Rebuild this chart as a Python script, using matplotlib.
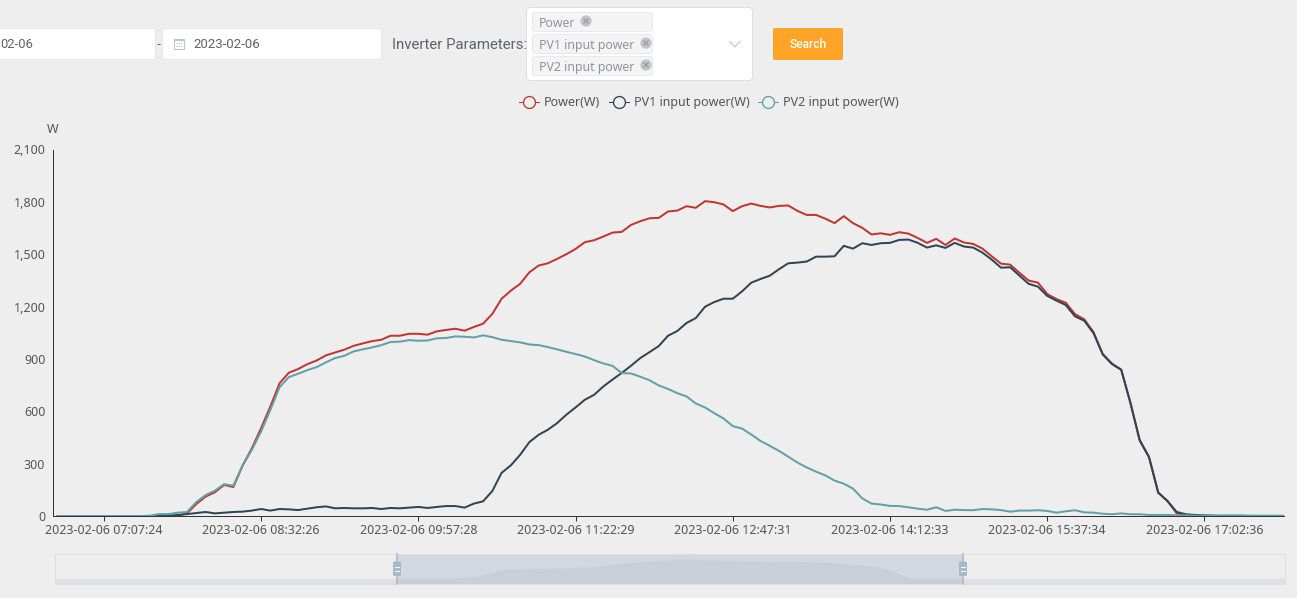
#!/usr/bin/env python3
"""Inverter power for one day, with the query form above and the zoom bar below."""

import matplotlib
matplotlib.use('Agg')
import matplotlib.pyplot as plt
import numpy as np
from matplotlib.lines import Line2D
from matplotlib.patches import Circle, FancyBboxPatch, Rectangle

W, H = 1297, 598

POWER = [
    0, 0, 0, 0, 0, 0, 0, 0, 0, 0, 0, 0, 0, 2, 15, 69, 111, 136, 178, 166,
    289, 388, 503, 627, 761, 821, 842, 870, 891, 920, 937, 953, 975, 989, 1002, 1010, 1033, 1033, 1044, 1044,
    1039, 1058, 1066, 1073, 1062, 1083, 1102, 1158, 1245, 1291, 1330, 1396, 1435, 1448, 1473, 1500, 1530, 1569, 1580, 1601,
    1624, 1628, 1668, 1689, 1706, 1708, 1745, 1750, 1775, 1766, 1804, 1798, 1785, 1747, 1775, 1790, 1777, 1768, 1777, 1779,
    1748, 1725, 1725, 1704, 1678, 1718, 1678, 1651, 1613, 1620, 1611, 1626, 1618, 1593, 1565, 1588, 1553, 1590, 1567, 1559,
    1532, 1488, 1446, 1440, 1393, 1349, 1337, 1272, 1243, 1222, 1157, 1127, 1054, 928, 874, 838, 647, 436, 340, 134,
    86, 15, 4, 2, 0, 0, 0, 0, 0, 0, 0, 0, 0, 0,
]
PV1_POWER = [
    0, 0, 0, 0, 0, 0, 0, 0, 0, 0, 0, 0, 2, 6, 11, 17, 23, 15, 19, 23,
    25, 31, 40, 31, 40, 38, 34, 42, 50, 55, 44, 46, 44, 44, 46, 40, 46, 44, 48, 52,
    46, 52, 57, 57, 48, 71, 84, 143, 247, 290, 350, 423, 465, 494, 532, 580, 622, 666, 694, 742,
    782, 820, 861, 905, 939, 974, 1033, 1060, 1106, 1134, 1199, 1226, 1245, 1245, 1287, 1337, 1358, 1377, 1414, 1448,
    1452, 1458, 1486, 1486, 1488, 1548, 1532, 1563, 1553, 1563, 1565, 1582, 1584, 1565, 1538, 1551, 1536, 1565, 1544, 1538,
    1509, 1469, 1423, 1425, 1377, 1330, 1314, 1261, 1234, 1209, 1144, 1119, 1048, 926, 870, 838, 647, 432, 337, 134,
    86, 23, 10, 6, 4, 2, 0, 0, 0, 0, 0, 0, 0, 0,
]
PV2_POWER = [
    0, 0, 0, 0, 0, 0, 0, 0, 0, 0, 2, 11, 11, 19, 23, 80, 120, 145, 182, 174,
    289, 379, 484, 608, 738, 796, 815, 836, 853, 880, 905, 918, 943, 955, 966, 979, 997, 999, 1008, 1004,
    1006, 1018, 1020, 1029, 1027, 1023, 1035, 1025, 1010, 1002, 995, 983, 979, 968, 955, 941, 928, 914, 893, 874,
    860, 819, 817, 798, 778, 748, 728, 704, 685, 645, 622, 589, 559, 515, 501, 467, 430, 402, 373, 340,
    306, 278, 254, 233, 203, 185, 157, 101, 71, 66, 58, 57, 50, 42, 36, 50, 29, 36, 34, 33,
    40, 38, 34, 25, 31, 31, 33, 29, 19, 27, 33, 21, 19, 13, 10, 15, 10, 10, 6, 6,
    6, 4, 4, 2, 2, 2, 4, 4, 4, 2, 2, 2, 2, 2,
]

TICK_SLOTS = [5, 22, 39, 56, 73, 90, 107, 124]
TICK_LABELS = [
    '2023-02-06 07:07:24', '2023-02-06 08:32:26', '2023-02-06 09:57:28', '2023-02-06 11:22:29',
    '2023-02-06 12:47:31', '2023-02-06 14:12:33', '2023-02-06 15:37:34', '2023-02-06 17:02:36',
]
Y_TICKS = [0, 300, 600, 900, 1200, 1500, 1800, 2100]

# the zoom bar shows the whole day, thinned out
PREVIEW_SLOT = [0, 94, 99, 105, 126, 132, 146, 165, 181, 191, 195, 200, 288]
PREVIEW_POWER = [0, 0, 190, 853, 1042, 1421, 1800, 1611, 1516, 1137, 853, 0, 0]

BG = '#eeeeee'
RED = '#c23531'
DARK = '#2f4554'
TEAL = '#61a0a8'
LABEL = '#555555'
FORM_TEXT = '#606266'
TAG_TEXT = '#909399'
BORDER = '#dcdfe6'
ZOOM_BLUE = '#a7b7cc'
LABEL_FONT = ['Noto Sans', 'DejaVu Sans']

plt.rcParams['font.family'] = LABEL_FONT
plt.rcParams['font.size'] = 9


def box(ax, x0, y0, x1, y1, face, edge, radius=3.0, lw=1.0):
    """Rounded box in pixel coordinates of the overlay."""
    ax.add_patch(FancyBboxPatch((x0, y0), x1 - x0, y1 - y0,
                                boxstyle=f"round,pad=0,rounding_size={radius}",
                                facecolor=face, edgecolor=edge, linewidth=lw * 0.72))


def draw_chart(fig):
    ax = fig.add_axes([53 / W, 1 - 516 / H, (1284 - 53) / W, (516 - 149.5) / H])
    ax.set_facecolor(BG)
    slots = np.arange(len(POWER))
    ax.plot(slots, POWER, color=RED, lw=1.44)
    ax.plot(slots, PV1_POWER, color=DARK, lw=1.44)
    ax.plot(slots, PV2_POWER, color=TEAL, lw=1.44)
    ax.set_xlim(-0.5, 132.6)
    ax.set_ylim(0, 2100)

    ax.set_xticks(TICK_SLOTS)
    ax.set_xticklabels(TICK_LABELS, color=LABEL, fontsize=9)
    ax.set_yticks(Y_TICKS)
    ax.set_yticklabels([f"{v:,}" for v in Y_TICKS], color=LABEL, fontsize=9)
    ax.tick_params(axis='x', length=3.6, width=0.72, color='#333333', pad=2.5)
    ax.tick_params(axis='y', length=0, pad=5.5)
    for side in ['top', 'right']:
        ax.spines[side].set_visible(False)
    for side in ['left', 'bottom']:
        ax.spines[side].set_color('#333333')
        ax.spines[side].set_linewidth(0.72)

    handles = [Line2D([], [], color=c, lw=0.72, marker='o', markersize=8.6, markerfacecolor=BG,
                      markeredgewidth=0.95, markeredgecolor=c) for c in (RED, DARK, TEAL)]
    fig.legend(handles, ['Power(W)', 'PV1 input power(W)', 'PV2 input power(W)'],
               loc='center', bbox_to_anchor=(709 / W, 1 - 102.5 / H), ncol=3, frameon=False,
               fontsize=9, labelcolor=LABEL, handlelength=1.6, handletextpad=0.4,
               columnspacing=0.7, borderpad=0, borderaxespad=0)


def draw_zoom_bar(fig):
    ax = fig.add_axes([55 / W, 1 - 583.5 / H, (1285 - 55) / W, (583.5 - 554) / H])
    ax.set_facecolor(BG)
    ax.fill_between(PREVIEW_SLOT, -521, PREVIEW_POWER, color='#2f4554', alpha=0.08, lw=0)
    ax.axvspan(80, 212.5, color=ZOOM_BLUE, alpha=0.4, lw=0)
    ax.set_xlim(0, 288)
    ax.set_ylim(-521, 2274)
    ax.set_xticks([])
    ax.set_yticks([])
    for spine in ax.spines.values():
        spine.set_color('#dddddd')
        spine.set_linewidth(0.72)


def draw_form(ov):
    # date range inputs
    box(ov, -20, 28.5, 155.5, 59.5, 'white', '#e4e7ed')
    box(ov, 162.5, 28.5, 381.5, 59.5, 'white', '#e4e7ed')
    ov.text(0, 44, '02-06', color=FORM_TEXT, fontsize=9.4, family='Roboto', ha='left', va='center')
    ov.text(193, 44, '2023-02-06', color=FORM_TEXT, fontsize=9.5, family='Roboto', ha='left', va='center')
    ov.text(158.5, 45, '-', color=FORM_TEXT, fontsize=9.4, ha='center', va='center')

    # calendar icon
    ov.add_patch(Rectangle((174, 38.5), 10, 10, facecolor='none', edgecolor='#c0c4cc', linewidth=0.8))
    ov.add_patch(Rectangle((174, 38.5), 10, 2.5, facecolor='#c0c4cc', edgecolor='none'))
    for yy in (43, 45.5):
        ov.add_line(Line2D([176, 182], [yy, yy], color='#c0c4cc', lw=0.8, dashes=(1.2, 0.8)))

    ov.text(392, 45, 'Inverter Parameters:', color=FORM_TEXT, fontsize=10.8, family='Roboto',
            ha='left', va='center')

    # multi select with its tags
    box(ov, 526.5, 7.5, 752.5, 80.5, 'white', BORDER, radius=4)
    tags = [('Power', 12.5, 31.5, 586), ('PV1 input power', 34.5, 53.5, 646), ('PV2 input power', 56.5, 75.5, 646)]
    for label, y0, y1, close_x in tags:
        box(ov, 532.5, y0, 652.5, y1, '#f4f4f5', '#e9e9eb', radius=3)
        ov.text(539, (y0 + y1) / 2 + 1.5, label, color=TAG_TEXT, fontsize=8.85, ha='left', va='center')
        close_y = y0 + 8.5
        ov.add_patch(Circle((close_x, close_y), 5.6, facecolor='#c0c4cc', edgecolor='none'))
        for sign in (-1, 1):
            ov.add_line(Line2D([close_x - 2.2, close_x + 2.2], [close_y - sign * 2.2, close_y + sign * 2.2],
                               color='#909399', lw=0.7))
    ov.add_line(Line2D([730, 735, 740], [41.5, 47, 41.5], color='#c0c4cc', lw=0.8))

    # search button
    box(ov, 773, 28, 843, 60, '#ffa426', 'none', radius=2)
    ov.text(808, 44, 'Search', color='white', fontsize=8.64, family='Roboto', weight='medium',
            ha='center', va='center')

    ov.text(53, 129.5, 'W', color=LABEL, fontsize=9, ha='center', va='center')

    # zoom bar handles
    for x in (397, 963):
        ov.add_line(Line2D([x, x], [554, 583.5], color=ZOOM_BLUE, lw=1.1))
        box(ov, x - 3.5, 562, x + 3.5, 575.5, ZOOM_BLUE, ZOOM_BLUE, radius=1)
        for yy in (566.5, 571):
            ov.add_line(Line2D([x - 2.2, x + 2.2], [yy, yy], color='white', lw=0.7))


def main():
    fig = plt.figure(figsize=(W / 100, H / 100), dpi=100, facecolor=BG)
    draw_chart(fig)
    draw_zoom_bar(fig)

    ov = fig.add_axes([0, 0, 1, 1], zorder=5)
    ov.set_xlim(0, W)
    ov.set_ylim(H, 0)
    ov.axis('off')
    draw_form(ov)

    fig.savefig('out.png', dpi=100, facecolor=BG)
    plt.close(fig)


if __name__ == "__main__":
    main()
